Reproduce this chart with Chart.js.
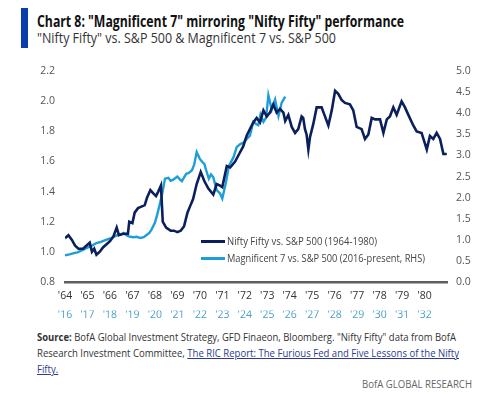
<!DOCTYPE html>
<html><head><meta charset="utf-8">
<script src="https://cdn.jsdelivr.net/npm/chart.js@4/dist/chart.umd.min.js"></script>
<style>
body{margin:0;width:500px;height:394px;background:#fff;position:relative;overflow:hidden;font-family:"Open Sans",sans-serif;color:#222;}
.t{position:absolute;white-space:nowrap;transform-origin:0 50%;}
#bar{position:absolute;left:21px;top:8px;width:7px;height:40px;background:#0a3eaa;}
#title{left:37px;top:10px;font-size:16px;line-height:22px;font-weight:bold;color:#111;}
#sub{left:37px;top:28px;font-size:14px;line-height:20px;color:#333;}
#wrap{position:absolute;left:0;top:55px;width:500px;height:264px;}
.lg{position:absolute;left:201px;width:24px;height:3px;}
.lt{left:227px;font-size:11.5px;line-height:16px;color:#444;}
.s{left:37px;font-size:11px;line-height:16px;color:#333;}
.s a{color:#2c3b91;text-decoration:underline;}
#foot{font-size:10.5px;line-height:16px;color:#666;}
</style></head><body>
<div id="bar"></div>
<div class="t" id="title" data-w="367">Chart 8: "Magnificent 7" mirroring "Nifty Fifty" performance</div>
<div class="t" id="sub" data-w="299">"Nifty Fifty" vs. S&amp;P 500 &amp; Magnificent 7 vs. S&amp;P 500</div>
<div id="wrap"><canvas id="c" width="500" height="264"></canvas></div>
<div class="lg" style="top:240px;background:#0b1f5c"></div>
<div class="t lt" style="top:233px" data-w="150">Nifty Fifty vs. S&amp;P 500 (1964-1980)</div>
<div class="lg" style="top:257px;background:#1d9ed8"></div>
<div class="t lt" style="top:250px" data-w="198">Magnificent 7 vs. S&amp;P 500 (2016-present, RHS)</div>
<div class="t s" style="top:329px" data-w="419"><b>Source:</b> BofA Global Investment Strategy, GFD Finaeon, Bloomberg. "Nifty Fifty" data from BofA</div>
<div class="t s" id="s2" style="top:345px" data-w="422">Research Investment Committee, <a>The RIC Report: The Furious Fed and Five Lessons of the Nifty</a></div>
<div class="t s" id="s3" style="top:361px"><a>Fifty.</a></div>
<div class="t" id="foot" style="left:362px;top:376px" data-w="110">BofA GLOBAL RESEARCH</div>
<script>
const niftyLabel = 'Nifty Fifty vs. S&P 500 (1964-1980)';
const mag7Label = 'Magnificent 7 vs. S&P 500 (2016-present, RHS)';
const niftyYears = [1964.0,1964.15,1964.3,1964.45,1964.6,1964.8,1964.95,1965.1,1965.2,1965.3,1965.4,1965.55,1965.7,1965.85,1966.0,1966.15,1966.3,1966.4,1966.6,1966.8,1966.86,1967.0,1967.1,1967.25,1967.4,1967.55,1967.65,1967.8,1967.92,1968.05,1968.15,1968.27,1968.35,1968.5,1968.7,1968.85,1969.0,1969.15,1969.3,1969.45,1969.56,1969.7,1969.86,1970.04,1970.2,1970.38,1970.6,1970.75,1970.9,1971.0,1971.2,1971.35,1971.57,1971.75,1971.93,1972.08,1972.23,1972.38,1972.53,1972.68,1972.83,1972.98,1973.12,1973.27,1973.42,1973.57,1973.72,1973.8,1973.94,1974.09,1974.24,1974.38,1974.53,1974.6,1974.68,1974.75,1974.83,1974.9,1975.05,1975.2,1975.42,1975.57,1975.72,1975.87,1976.02,1976.16,1976.31,1976.46,1976.68,1976.83,1976.98,1977.2,1977.35,1977.5,1977.65,1977.8,1978.02,1978.17,1978.32,1978.46,1978.61,1978.76,1978.98,1979.13,1979.28,1979.5,1979.65,1979.87,1980.1,1980.24,1980.39,1980.54,1980.69,1980.84,1980.99];
const niftyValues = [1.09,1.11,1.08,1.04,1.02,1.02,1.04,1.06,1.00,1.02,0.98,1.00,1.03,1.05,1.07,1.10,1.16,1.11,1.12,1.12,1.20,1.19,1.26,1.29,1.30,1.31,1.36,1.41,1.39,1.37,1.40,1.44,1.20,1.16,1.14,1.14,1.13,1.14,1.17,1.26,1.30,1.35,1.45,1.53,1.47,1.42,1.38,1.45,1.44,1.43,1.57,1.56,1.60,1.65,1.70,1.77,1.815,1.86,1.89,1.86,1.94,1.90,1.925,1.98,1.925,1.95,1.925,1.87,1.91,1.83,1.79,1.815,1.90,1.89,1.815,1.78,1.68,1.76,1.85,1.96,1.96,1.90,1.84,1.94,2.07,2.05,2.01,1.99,1.98,1.94,1.83,1.815,1.75,1.78,1.89,1.88,1.88,1.79,1.88,1.90,1.96,1.91,2.00,1.96,1.91,1.84,1.80,1.79,1.68,1.77,1.75,1.79,1.75,1.65,1.65];
const mag7Years = [2016.0,2016.2,2016.4,2016.55,2016.8,2017.0,2017.2,2017.4,2017.6,2017.85,2018.05,2018.3,2018.5,2018.6,2018.75,2018.9,2019.05,2019.2,2019.35,2019.5,2019.6,2019.75,2019.85,2020.0,2020.1,2020.3,2020.45,2020.6,2020.7,2020.8,2020.9,2021.0,2021.1,2021.2,2021.3,2021.4,2021.5,2021.65,2021.75,2021.86,2022.0,2022.1,2022.2,2022.3,2022.4,2022.5,2022.6,2022.75,2022.9,2023.0,2023.15,2023.3,2023.5,2023.64,2023.8,2023.95,2024.1,2024.23,2024.38,2024.5,2024.6,2024.7,2024.83,2024.95,2025.05,2025.2,2025.35,2025.5,2025.64,2025.8];
const mag7Values = [0.63,0.65,0.68,0.70,0.76,0.81,0.86,0.92,0.95,1.00,1.04,1.10,1.13,1.16,1.10,1.07,1.06,1.07,1.04,1.06,1.10,1.16,1.24,1.40,1.59,2.02,2.45,2.47,2.40,2.42,2.46,2.50,2.44,2.39,2.48,2.57,2.58,2.65,2.78,3.08,2.92,2.85,2.80,2.62,2.45,2.55,2.48,2.18,2.10,1.98,2.33,2.76,2.96,3.20,3.27,3.31,3.40,3.47,3.80,3.75,3.72,3.97,3.80,3.90,4.43,4.09,4.33,3.94,4.25,4.40];
const niftyTickYears = [1964,1965,1966,1967,1968,1969,1970,1971,1972,1973,1974,1975,1976,1977,1978,1979,1980];
const niftyTickLabels = ["'64","'65","'66","'67","'68","'69","'70","'71","'72","'73","'74","'75","'76","'77","'78","'79","'80"];
const mag7TickYears = [2016,2017,2018,2019,2020,2021,2022,2023,2024,2025,2026,2027,2028,2029,2030,2031,2032];
const mag7TickLabels = ["'16","'17","'18","'19","'20","'21","'22","'23","'24","'25","'26","'27","'28","'29","'30","'31","'32"];
const leftAxis = {min:0.8, max:2.2, step:0.2};
const rightAxis = {min:0, max:5, step:0.5};

let lastScale = 1;
document.querySelectorAll('.t').forEach(el => {
  const target = +el.dataset.w;
  const w = el.getBoundingClientRect().width;
  if (target && w) { lastScale = target / w; el.style.transform = 'scaleX(' + lastScale + ')'; }
  else if (el.id === 's3') el.style.transform = 'scaleX(' + lastScale + ')';
});

const FONT = '"Open Sans",sans-serif';
new Chart(document.getElementById('c'), {
  type: 'line',
  data: { datasets: [
    { label: niftyLabel, data: niftyYears.map((x,i)=>({x, y: niftyValues[i]})), xAxisID:'x', yAxisID:'y',
      borderColor:'#0b1f5c', borderWidth:2.6, pointRadius:0, tension:0, order:1 },
    { label: mag7Label, data: mag7Years.map((x,i)=>({x, y: mag7Values[i]})), xAxisID:'x2', yAxisID:'y2',
      borderColor:'#1d9ed8', borderWidth:2.4, pointRadius:0, tension:0, order:2 }
  ]},
  options: {
    responsive:false, animation:false, events:[],
    layout:{padding:{top:5,bottom:0,left:0,right:0}},
    plugins:{legend:{display:false}, tooltip:{enabled:false}},
    scales:{
      x:{type:'linear', position:'bottom', min:1964, max:1981,
        afterBuildTicks: s => { s.ticks = niftyTickYears.map(v=>({value:v})); },
        ticks:{autoSkip:false, maxRotation:0, padding:8, color:'#333', font:{family:FONT,size:10.5},
          callback:(v,i)=>niftyTickLabels[i]},
        grid:{display:false, drawTicks:false}, border:{display:true,color:'#5f5f5f',width:2.5}},
      x2:{type:'linear', position:'bottom', min:2016, max:2033,
        afterBuildTicks: s => { s.ticks = mag7TickYears.map(v=>({value:v})); },
        ticks:{autoSkip:false, maxRotation:0, padding:-2, color:'#4a9fc6', font:{family:FONT,size:10.5},
          callback:(v,i)=>mag7TickLabels[i]},
        grid:{display:false, drawTicks:false}, border:{display:false}},
      y:{position:'left', min:leftAxis.min, max:leftAxis.max,
        afterFit: s => { s.width = 65; },
        ticks:{stepSize:leftAxis.step, padding:10, color:'#555', font:{family:FONT,size:10.5},
          callback:v=>v.toFixed(1)},
        grid:{display:false, drawTicks:false}, border:{display:false}},
      y2:{position:'right', min:rightAxis.min, max:rightAxis.max,
        afterFit: s => { s.width = 53; },
        ticks:{stepSize:rightAxis.step, padding:9, color:'#555', font:{family:FONT,size:10.5},
          callback:v=>v.toFixed(1)},
        grid:{display:false, drawTicks:false}, border:{display:false}}
    }
  }
});
</script>
</body></html>
